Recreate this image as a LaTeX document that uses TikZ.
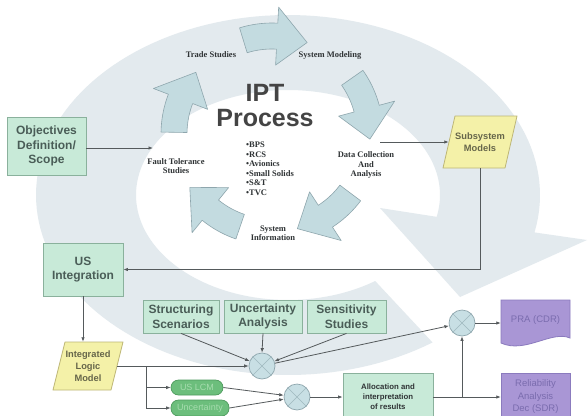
\documentclass[tikz,border=0pt]{standalone}
\usepackage{fontspec}
\setmainfont{Liberation Sans}
\newfontfamily\tmsfont{Liberation Serif}
\usetikzlibrary{arrows.meta,shapes.geometric,calc}
\definecolor{ringc}{HTML}{E3EAEE}
\definecolor{cycfill}{HTML}{C3DBE0}
\definecolor{cycdraw}{HTML}{8EA6AD}
\definecolor{gfill}{HTML}{C8EAD8}
\definecolor{gdraw}{HTML}{8AB19C}
\definecolor{gtext}{HTML}{4A5D57}
\definecolor{yfill}{HTML}{F4F1A8}
\definecolor{ydraw}{HTML}{BDB676}
\definecolor{ytext}{HTML}{66664A}
\definecolor{pfill}{HTML}{A996D5}
\definecolor{pdraw}{HTML}{8B7BBE}
\definecolor{ptext}{HTML}{7A6CAE}
\definecolor{pillfill}{HTML}{6CBE7C}
\definecolor{pilldraw}{HTML}{4F9B5E}
\definecolor{pilltext}{HTML}{A6DCAE}
\definecolor{xfill}{HTML}{C8DFE4}
\definecolor{xdraw}{HTML}{8EA6AD}
\definecolor{xline}{HTML}{9FB8BF}
\definecolor{linec}{HTML}{555A5C}
\definecolor{dtext}{HTML}{2F3335}
\definecolor{ipttext}{HTML}{444444}
\tikzset{
  gbox/.style={draw=gdraw, fill=gfill, line width=0.8pt, text=gtext,
    font=\bfseries\fontsize{12}{14.5}\selectfont, align=center, inner sep=0pt},
  ytxt/.style={text=ytext, font=\bfseries\fontsize{9.3}{12.2}\selectfont, align=center, inner sep=0pt},
  yshape/.style={draw=ydraw, fill=yfill, line width=0.8pt, line join=round},
  pshape/.style={draw=pdraw, fill=pfill, line width=0.8pt},
  ptxt/.style={text=ptext, font=\fontsize{9.5}{12.5}\selectfont, align=center, inner sep=0pt},
  pill/.style={rounded corners=7.5pt, draw=pilldraw, fill=pillfill, text=pilltext,
    font=\fontsize{9}{10}\selectfont, inner sep=0pt, line width=0.7pt},
  xcirc/.style={circle, draw=xdraw, fill=xfill, minimum size=26pt, inner sep=0pt, line width=0.7pt},
  conn/.style={draw=linec, line width=0.8pt, -{Latex[length=4.5pt,width=3.5pt]}},
  cyclbl/.style={font=\tmsfont\bfseries\fontsize{8.5}{9.5}\selectfont, text=dtext, align=center, inner sep=0pt},
  cyc/.style={fill=cycfill, draw=cycdraw, line width=0.6pt, line join=round},
  bigtxt/.style={font=\bfseries\fontsize{25}{26}\selectfont, text=ipttext, inner sep=0pt},
}
\begin{document}
\begin{tikzpicture}[x=1pt,y=-1pt]
\useasboundingbox (0,0) rectangle (588,415);
\clip (0,0) rectangle (588,415);
\fill[white] (0,0) rectangle (588,415);

% big background circular arrow
\fill[ringc] plot[domain=55:372, samples=140] ({288+252*cos(\x)},{195+180*sin(\x)})
  -- (587,240) -- (460,297) -- (380,208)
  -- plot[domain=372:55, samples=140] ({288+152*cos(\x)},{195+105*sin(\x)}) -- cycle;

% IPT cycle arrows
\foreach \a in {-89,-17,55,127,199} {
  \pgfmathsetmacro\ta{\a-18}
  \pgfmathsetmacro\hb{\a+2}
  \pgfmathsetmacro\tp{\a+20}
  \filldraw[cyc] plot[domain=\ta:\hb, samples=10] ({272+111*cos(\x)},{134+111*sin(\x)})
    -- ({272+127*cos(\hb)},{134+127*sin(\hb)})
    -- ({272+98*cos(\tp)},{134+98*sin(\tp)})
    -- ({272+69*cos(\hb)},{134+69*sin(\hb)})
    -- plot[domain=\hb:\ta, samples=10] ({272+85*cos(\x)},{134+85*sin(\x)}) -- cycle;
}

% cycle labels
\node[cyclbl] (trade) at (211,55) {Trade Studies};
\node[cyclbl] (sysmod) at (330,55) {System Modeling};
\node[cyclbl] (fault) at (176,166) {Fault Tolerance\\Studies};
\node[cyclbl] (datac) at (366,165) {Data Collection\\And\\Analysis};
\node[cyclbl] (sysinf) at (273,233) {System\\Information};
\node[bigtxt] (ipt) at (265,93) {IPT};
\node[bigtxt] (proc) at (265,118) {Process};
\node[cyclbl, align=left, anchor=north west] (bul) at (246,142)
  {•BPS\\•RCS\\•Avionics\\•Small Solids\\•S\&T\\•TVC};

% parallelogram shapes (drawn first)
\filldraw[yshape] (455,116) -- (517,116) -- (505,168) -- (443,168) -- cycle;
\filldraw[yshape] (65,342) -- (123,342) -- (111,390) -- (53,390) -- cycle;
% document shape for PRA
\filldraw[pshape] (501,300) -- (570,300) -- (570,338)
  .. controls (552,330) and (525,354) .. (501,343) -- cycle;
\filldraw[pshape] (501,373) rectangle (570,425);

% nodes
\node[gbox, minimum width=79pt, minimum height=58pt] (obj) at (46.5,146) {Objectives\\Definition/\\Scope};
\node[ytxt, minimum width=62pt, minimum height=52pt] (ssm) at (480,142) {Subsystem\\Models};
\node[gbox, minimum width=80pt, minimum height=53pt] (usint) at (83,269.5) {US\\Integration};
\node[ytxt, minimum width=58pt, minimum height=48pt] (ilm) at (88,366) {Integrated\\Logic\\Model};
\node[gbox, minimum width=76pt, minimum height=33pt] (struct) at (181,316.5) {Structuring\\Scenarios};
\node[gbox, minimum width=78pt, minimum height=33pt] (unc) at (263,316.5) {Uncertainty\\Analysis};
\node[gbox, minimum width=79pt, minimum height=33pt] (sens) at (346.5,316.5) {Sensitivity\\Studies};
\node[pill, minimum width=52pt, minimum height=15pt] (lcm) at (197,387.5) {US LCM};
\node[pill, minimum width=58pt, minimum height=16pt] (unc2) at (200,408) {Uncertainty};
\node[xcirc] (c1) at (262,366) {};
\node[xcirc] (c2) at (297,397) {};
\node[xcirc] (c3) at (462,323) {};
\node[gbox, minimum width=90pt, minimum height=48pt, text=dtext,
  font=\bfseries\fontsize{7.8}{10}\selectfont] (alloc) at (388,397) {Allocation and\\interpretation\\of results};
\node[ptxt, minimum width=69pt, minimum height=40pt] (pra) at (535.5,320) {PRA (CDR)};
\node[ptxt, minimum width=69pt, minimum height=48pt] (rel) at (535.5,397) {Reliability\\Analysis\\Dec (SDR)};

% X marks inside junction circles
\foreach \c in {c1,c2,c3} {
  \draw[xline, line width=0.6pt] (\c.north east) -- (\c.south west) (\c.north west) -- (\c.south east);
}

% connectors
\coordinate (ftin) at (153,148);
\coordinate (dcout) at (380,142);
\coordinate (jn) at (146,366);
\draw[conn] (obj.east |- ftin) -- (ftin);
\draw[conn] (dcout) -- (ssm.west);
\draw[conn] (ssm.south) |- (usint.east);
\draw[conn] (usint.south) -- (usint.south |- ilm.north);
\draw[conn] (ilm.east) -- (c1.west);
\draw[conn] (jn) |- (lcm.west);
\draw[conn] (jn) |- (unc2.west);
\draw[conn] (struct.south) -- (c1);
\draw[conn] (unc.south) -- (c1.north);
\draw[conn] (sens.south) -- (c1);
\draw[conn] (c1) -- (c3);
\draw[conn] (c3.east) -- (c3.east -| pra.west);
\draw[conn] (lcm.east) -- (c2);
\draw[conn] (unc2.east) -- (c2);
\draw[conn] (c2.east) -- (alloc.west);
\draw[conn] (alloc.east) -- (rel.west);
\draw[conn] (c3 |- alloc.east) -- (c3.south);
\end{tikzpicture}
\end{document}
